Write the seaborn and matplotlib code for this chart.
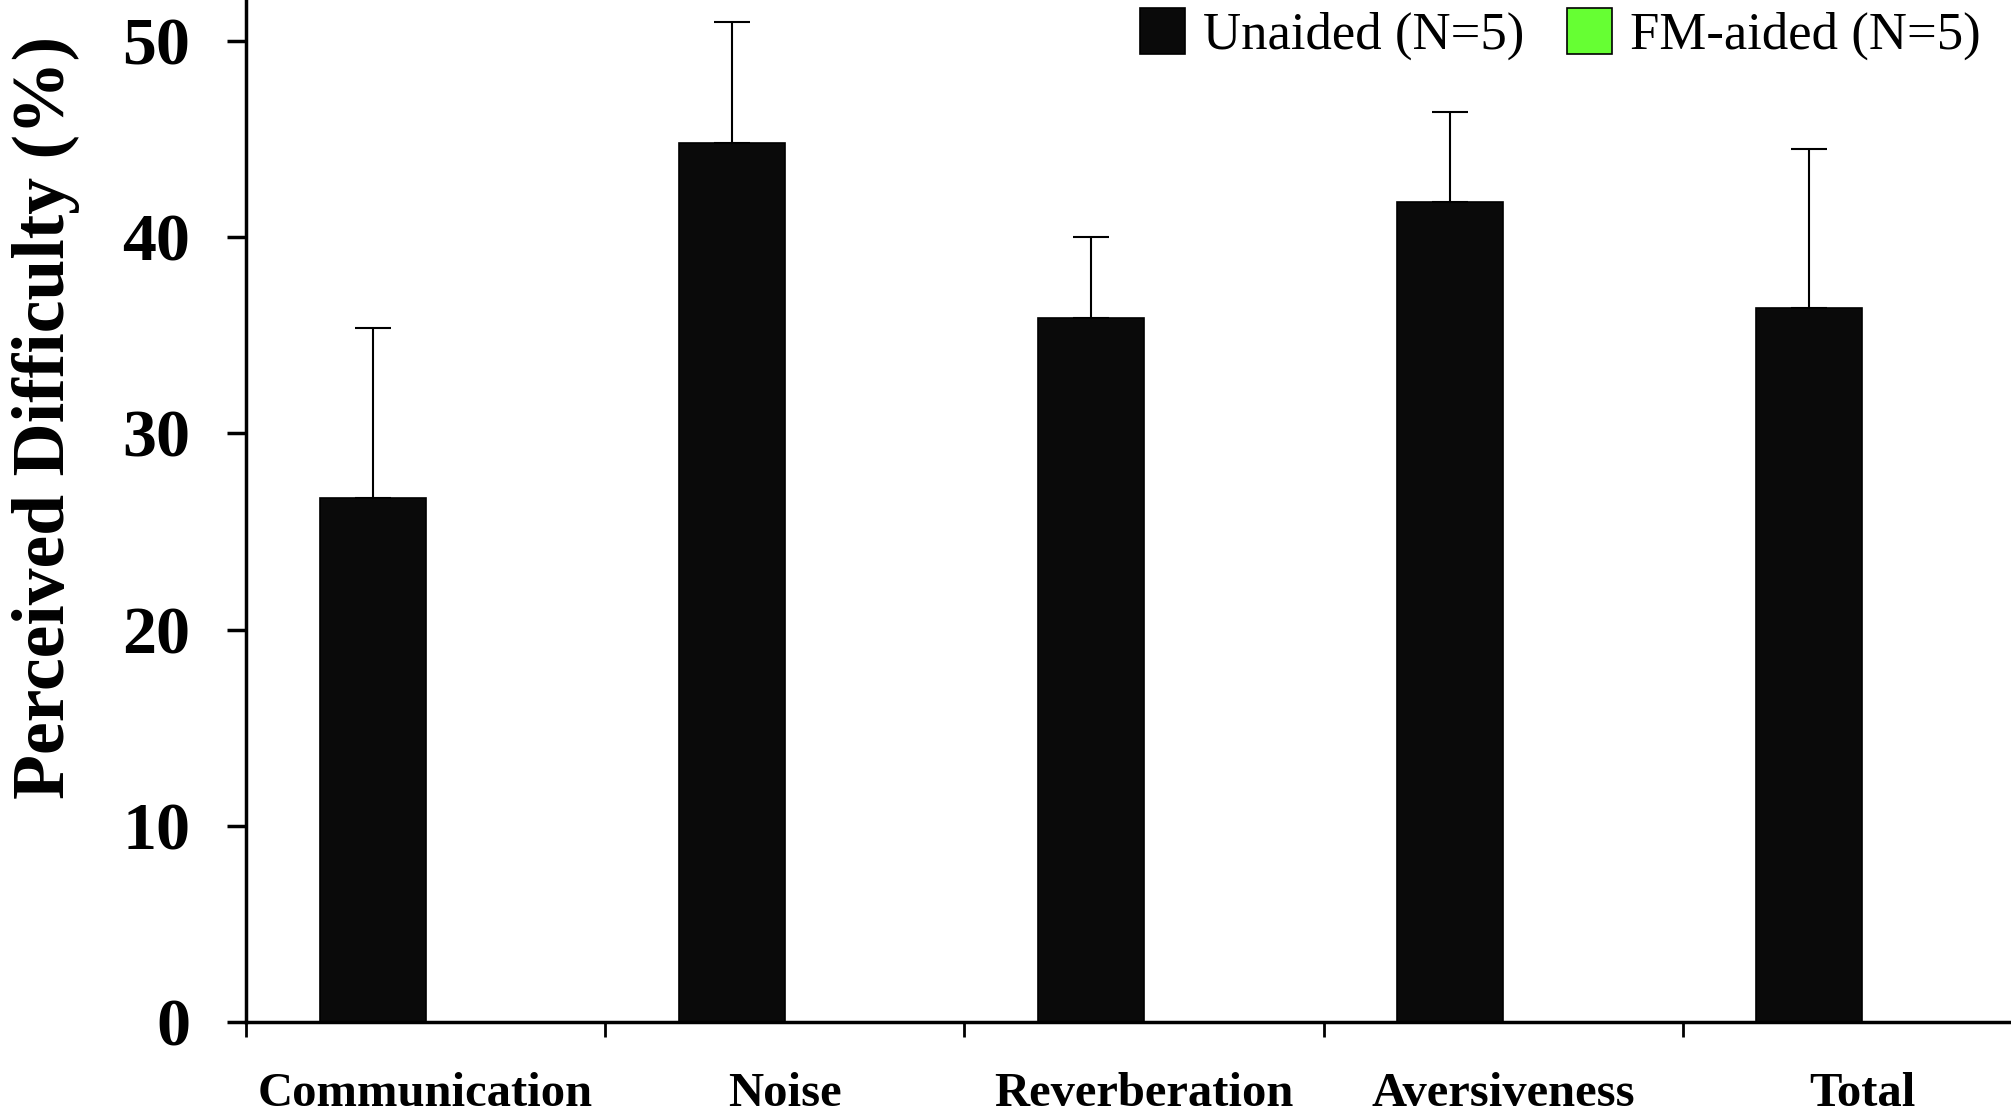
import matplotlib
matplotlib.use("Agg")
import matplotlib.pyplot as plt
import seaborn as sns
import pandas as pd
import numpy as np

categories = ["Communication", "Noise", "Reverberation", "Aversiveness", "Total"]
unaided_mean = [26.7, 44.8, 35.9, 41.8, 36.4]
unaided_err = [8.7, 6.2, 4.1, 4.6, 8.1]
fm_aided_mean = [0, 0, 0, 0, 0]
groups = ["Unaided (N=5)", "FM-aided (N=5)"]
colors = ["#0a0a0a", "#66ff33"]
yticks = [0, 10, 20, 30, 40, 50]

df = pd.DataFrame({
    "category": categories * 2,
    "value": unaided_mean + fm_aided_mean,
    "group": [groups[0]] * len(categories) + [groups[1]] * len(categories),
})

sns.set_style("ticks")
plt.rcParams["font.family"] = ["Liberation Serif", "DejaVu Serif"]
plt.rcParams["text.color"] = "black"
plt.rcParams["axes.labelcolor"] = "black"
plt.rcParams["xtick.color"] = "black"
plt.rcParams["ytick.color"] = "black"

fig = plt.figure(figsize=(20.11, 11.12), dpi=100)
ax = fig.add_axes([0.1223, 0.081, 0.8777, 0.919])

sns.barplot(data=df, x="category", y="value", hue="group", hue_order=groups,
            palette=colors, saturation=1, width=0.59, edgecolor="black", linewidth=1.2,
            errorbar=None, ax=ax, legend=True)

# error bars (upward only) on the Unaided bars
bars = ax.containers[0]
xs = [p.get_x() + p.get_width() / 2 for p in bars]
ax.errorbar(xs, unaided_mean, yerr=[np.zeros(len(unaided_err)), unaided_err],
            fmt="none", ecolor="black", elinewidth=1.5, capsize=13, capthick=1.5,
            zorder=1)

ax.set_xlim(-0.5, 4.414)
ax.set_ylim(0, 52.1)
ax.set_yticks(yticks)
ax.set_yticklabels([str(t) for t in yticks], fontsize=49, fontweight="bold")
ax.set_xticks(range(len(categories)))
ax.set_xticklabels(categories, fontsize=35, fontweight="bold")
ax.set_xticks([-0.5, 0.5, 1.5, 2.5, 3.5], minor=True)
ax.tick_params(axis="x", which="major", length=0, pad=36)
ax.tick_params(axis="x", which="minor", length=11, width=2, direction="out")
ax.tick_params(axis="y", which="major", length=14, width=2.5, direction="out", pad=26)

ax.set_xlabel("")
ax.set_ylabel("Perceived Difficulty (%)", fontsize=53, fontweight="bold")
ax.yaxis.set_label_coords(-0.094, 0.592)

for side in ["top", "right"]:
    ax.spines[side].set_visible(False)
for side in ["left", "bottom"]:
    ax.spines[side].set_linewidth(2.5)
    ax.spines[side].set_color("black")

leg = ax.legend(loc="upper right", bbox_to_anchor=(0.998, 1.018), ncol=2, frameon=False,
                fontsize=38, handlelength=0.85, handleheight=0.95, handletextpad=0.35,
                columnspacing=0.8, borderaxespad=0.1)

fig.savefig("out.png", dpi=100, facecolor="white")
